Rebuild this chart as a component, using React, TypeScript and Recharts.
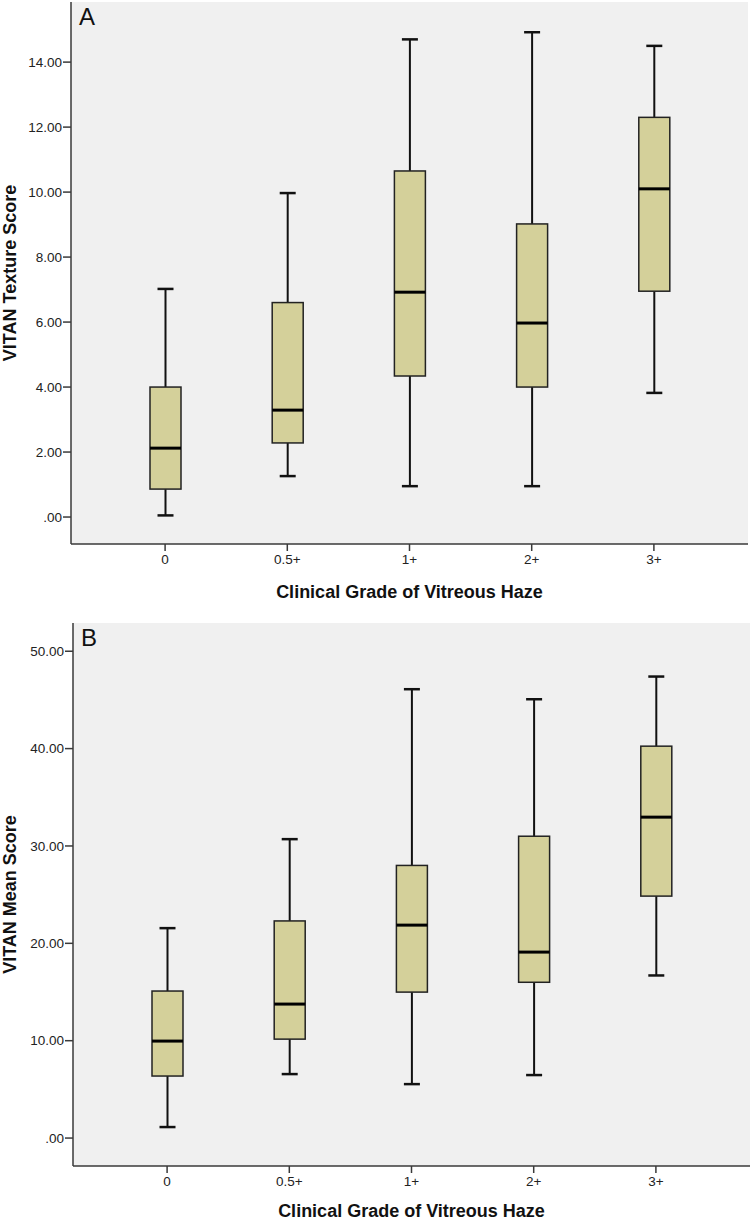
import { Bar, CartesianGrid, ComposedChart, XAxis, YAxis } from "recharts"

// categories on the x axis
const grades = ["0", "0.5+", "1+", "2+", "3+"]

// panel A: VITAN texture score
const textureLow = [0.05, 1.26, 0.95, 0.95, 3.82]
const textureQ1 = [0.86, 2.28, 4.34, 4.0, 6.95]
const textureMedian = [2.12, 3.29, 6.92, 5.97, 10.1]
const textureQ3 = [4.0, 6.6, 10.65, 9.02, 12.3]
const textureHigh = [7.02, 9.97, 14.7, 14.92, 14.5]
const textureTicks = [0, 2, 4, 6, 8, 10, 12, 14]

// panel B: VITAN mean score
const meanLow = [1.13, 6.57, 5.54, 6.47, 16.7]
const meanQ1 = [6.37, 10.16, 14.99, 16.0, 24.85]
const meanMedian = [9.96, 13.76, 21.87, 19.1, 32.96]
const meanQ3 = [15.1, 22.3, 28.0, 31.0, 40.25]
const meanHigh = [21.56, 30.7, 46.1, 45.07, 47.4]
const meanTicks = [0, 10, 20, 30, 40, 50]

const FONT = "'Liberation Sans', Arial, sans-serif"
const BOX_FILL = "#d4d09a"
const PANEL_BG = "#f0f0f0"
const FRAME = "#3a3a3a"

function buildRows(low: number[], q1: number[], med: number[], q3: number[], high: number[]) {
  return grades.map((grade, i) => ({
    grade,
    low: low[i],
    q1: q1[i],
    median: med[i],
    q3: q3[i],
    high: high[i],
  }))
}

const textureRows = buildRows(textureLow, textureQ1, textureMedian, textureQ3, textureHigh)
const meanRows = buildRows(meanLow, meanQ1, meanMedian, meanQ3, meanHigh)

// draws whiskers + box + median inside the range bar that Recharts laid out (low..high)
function BoxShape(props: any) {
  const { x, y, width, height, payload } = props
  if (x == null || y == null || !payload) return null
  const top = Math.min(y, y + height)
  const bottom = Math.max(y, y + height)
  const { low, q1, median, q3, high } = payload
  const toY = (v: number) => top + ((high - v) / (high - low)) * (bottom - top)
  const cx = x + width / 2
  const capHalf = 8
  return (
    <g>
      <line x1={cx} x2={cx} y1={toY(high)} y2={toY(q3)} stroke="#111" strokeWidth={2} />
      <line x1={cx} x2={cx} y1={toY(q1)} y2={toY(low)} stroke="#111" strokeWidth={2} />
      <line x1={cx - capHalf} x2={cx + capHalf} y1={toY(high)} y2={toY(high)} stroke="#111" strokeWidth={2.5} />
      <line x1={cx - capHalf} x2={cx + capHalf} y1={toY(low)} y2={toY(low)} stroke="#111" strokeWidth={2.5} />
      <rect
        x={x}
        y={toY(q3)}
        width={width}
        height={toY(q1) - toY(q3)}
        fill={BOX_FILL}
        stroke="#222"
        strokeWidth={1.5}
      />
      <line x1={x} x2={x + width} y1={toY(median)} y2={toY(median)} stroke="#000" strokeWidth={3} />
    </g>
  )
}

const fmt = (v: number) => (v === 0 ? ".00" : v.toFixed(2))

function YTitle(text: string, cx: number) {
  return (props: any) => {
    const vb = props.viewBox || {}
    const cy = vb.y + vb.height / 2
    return (
      <text
        x={cx}
        y={cy}
        transform={`rotate(-90 ${cx} ${cy})`}
        textAnchor="middle"
        dominantBaseline="central"
        fontFamily={FONT}
        fontWeight="bold"
        fontSize={18}
        fill="#111"
      >
        {text}
      </text>
    )
  }
}

interface PanelProps {
  rows: any[]
  ticks: number[]
  domain: [number, number]
  yTitle: string
  letter: string
  height: number
  marginTop: number
  yWidth: number
  xHeight: number
  xTitleOffset: number
}

function Panel({ rows, ticks, domain, yTitle, letter, height, marginTop, yWidth, xHeight, xTitleOffset }: PanelProps) {
  const tickStyle = { fontFamily: FONT, fontSize: 13.5, fill: "#222" }
  return (
    <div style={{ position: "relative", width: 753, height }}>
      <ComposedChart
        width={753}
        height={height}
        data={rows}
        margin={{ top: marginTop, right: 753 - yWidth - 677, bottom: 0, left: 0 }}
      >
        <CartesianGrid fill={PANEL_BG} horizontal={false} vertical={false} />
        <XAxis
          dataKey="grade"
          type="category"
          height={xHeight}
          padding={{ left: 33, right: 33 }}
          tick={tickStyle}
          tickSize={7}
          tickMargin={3}
          tickLine={{ stroke: FRAME, strokeWidth: 1.5 }}
          axisLine={{ stroke: FRAME, strokeWidth: 1.5 }}
          label={{
            value: "Clinical Grade of Vitreous Haze",
            position: "insideBottom",
            offset: xTitleOffset,
            style: { fontFamily: FONT, fontWeight: "bold", fontSize: 18, fill: "#111" },
          }}
        />
        <XAxis
          xAxisId="top"
          dataKey="grade"
          type="category"
          orientation="top"
          height={0}
          tick={false}
          tickLine={false}
          axisLine={{ stroke: FRAME, strokeWidth: 1.5 }}
        />
        <YAxis
          type="number"
          domain={domain}
          ticks={ticks}
          interval={0}
          width={yWidth}
          tickFormatter={fmt}
          tick={tickStyle}
          tickSize={8}
          tickMargin={1}
          tickLine={{ stroke: FRAME, strokeWidth: 1.5 }}
          axisLine={{ stroke: FRAME, strokeWidth: 1.5 }}
          label={{ content: YTitle(yTitle, 10) }}
        />
        <YAxis
          yAxisId="right"
          orientation="right"
          type="number"
          domain={domain}
          width={0}
          tick={false}
          tickLine={false}
          axisLine={{ stroke: FRAME, strokeWidth: 1.5 }}
        />
        <Bar
          dataKey={(d: any) => [d.low, d.high]}
          barSize={31}
          shape={BoxShape}
          isAnimationActive={false}
        />
      </ComposedChart>
      <div
        style={{
          position: "absolute",
          left: yWidth + 8,
          top: marginTop + 3,
          fontFamily: FONT,
          fontSize: 24,
          lineHeight: "24px",
          color: "#111",
        }}
      >
        {letter}
      </div>
    </div>
  )
}

export default function App() {
  return (
    <div style={{ position: "absolute", left: 0, top: 0, width: 753, height: 1220, background: "#fff" }}>
      <Panel
        rows={textureRows}
        ticks={textureTicks}
        domain={[-0.83, 15.85]}
        yTitle="VITAN Texture Score"
        letter="A"
        height={610}
        marginTop={2}
        yWidth={71}
        xHeight={66}
        xTitleOffset={12}
      />
      <Panel
        rows={meanRows}
        ticks={meanTicks}
        domain={[-2.87, 52.9]}
        yTitle="VITAN Mean Score"
        letter="B"
        height={610}
        marginTop={13}
        yWidth={73}
        xHeight={54}
        xTitleOffset={3}
      />
    </div>
  )
}
